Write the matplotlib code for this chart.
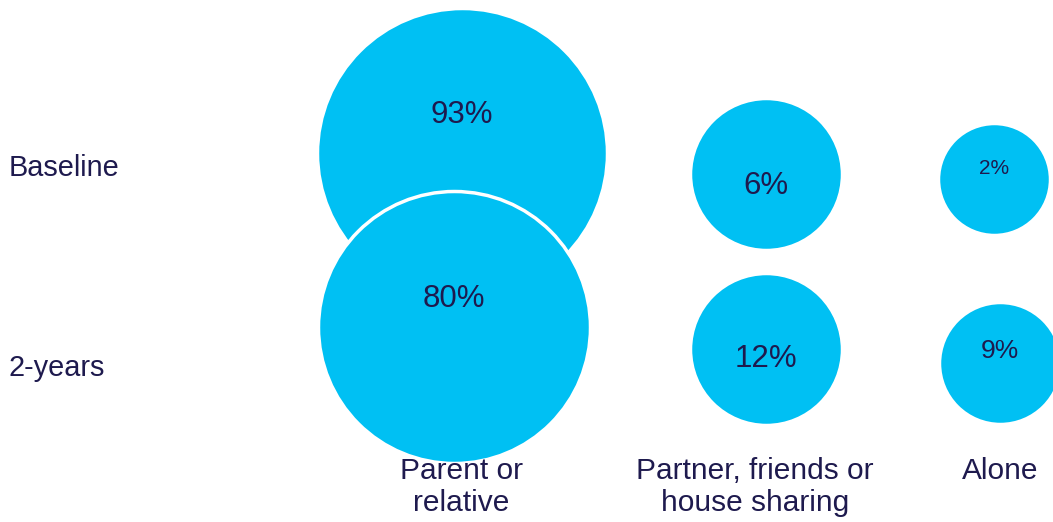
import matplotlib.pyplot as plt

plt.rcParams['font.family'] = ['Liberation Sans', 'DejaVu Sans']

# living arrangement shares, baseline vs 2-year follow-up
categories = ['Parent or\nrelative', 'Partner, friends or\nhouse sharing', 'Alone']
rows = ['Baseline', '2-years']
baseline = [93, 6, 2]
two_years = [80, 12, 9]

# bubble radius (px) for each bubble, same order as the values
bubble_r = [[145, 76, 56], [136, 76, 61]]

# layout (pixel grid of the figure)
bubble_x = [[462, 766, 994], [454, 766, 1000]]
bubble_y = [[153, 174, 179], [327, 349, 363]]
label_dy = [[-38, 12, -11], [-28, 10, -12]]
label_fs = [[22.5, 22.5, 15], [22.5, 22.5, 19]]
row_y = [168, 368]
cat_x = [461, 755, 1000]

blue = '#00C0F3'
navy = '#1E1A4E'

fig = plt.figure(figsize=(10.53, 5.22), dpi=100)
ax = fig.add_axes([0, 0, 1, 1])
ax.set_xlim(0, 1053)
ax.set_ylim(522, 0)
ax.axis('off')

for i, vals in enumerate([baseline, two_years]):
    for j, v in enumerate(vals):
        r_pt = bubble_r[i][j] * 72 / 100
        ax.scatter(bubble_x[i][j], bubble_y[i][j], s=(2 * r_pt) ** 2,
                   color=blue, edgecolor='white', linewidth=2.5,
                   zorder=2 + i)
        ax.text(bubble_x[i][j], bubble_y[i][j] + label_dy[i][j], f'{v}%',
                ha='center', va='center', fontsize=label_fs[i][j],
                color=navy, zorder=5)

for name, y in zip(rows, row_y):
    ax.text(9, y, name, ha='left', va='center', fontsize=20.8, color=navy)

for name, x in zip(categories, cat_x):
    ax.text(x, 457, name, ha='center', va='top', fontsize=21.5, color=navy,
            linespacing=1.2)

fig.savefig('out.png', dpi=100)
